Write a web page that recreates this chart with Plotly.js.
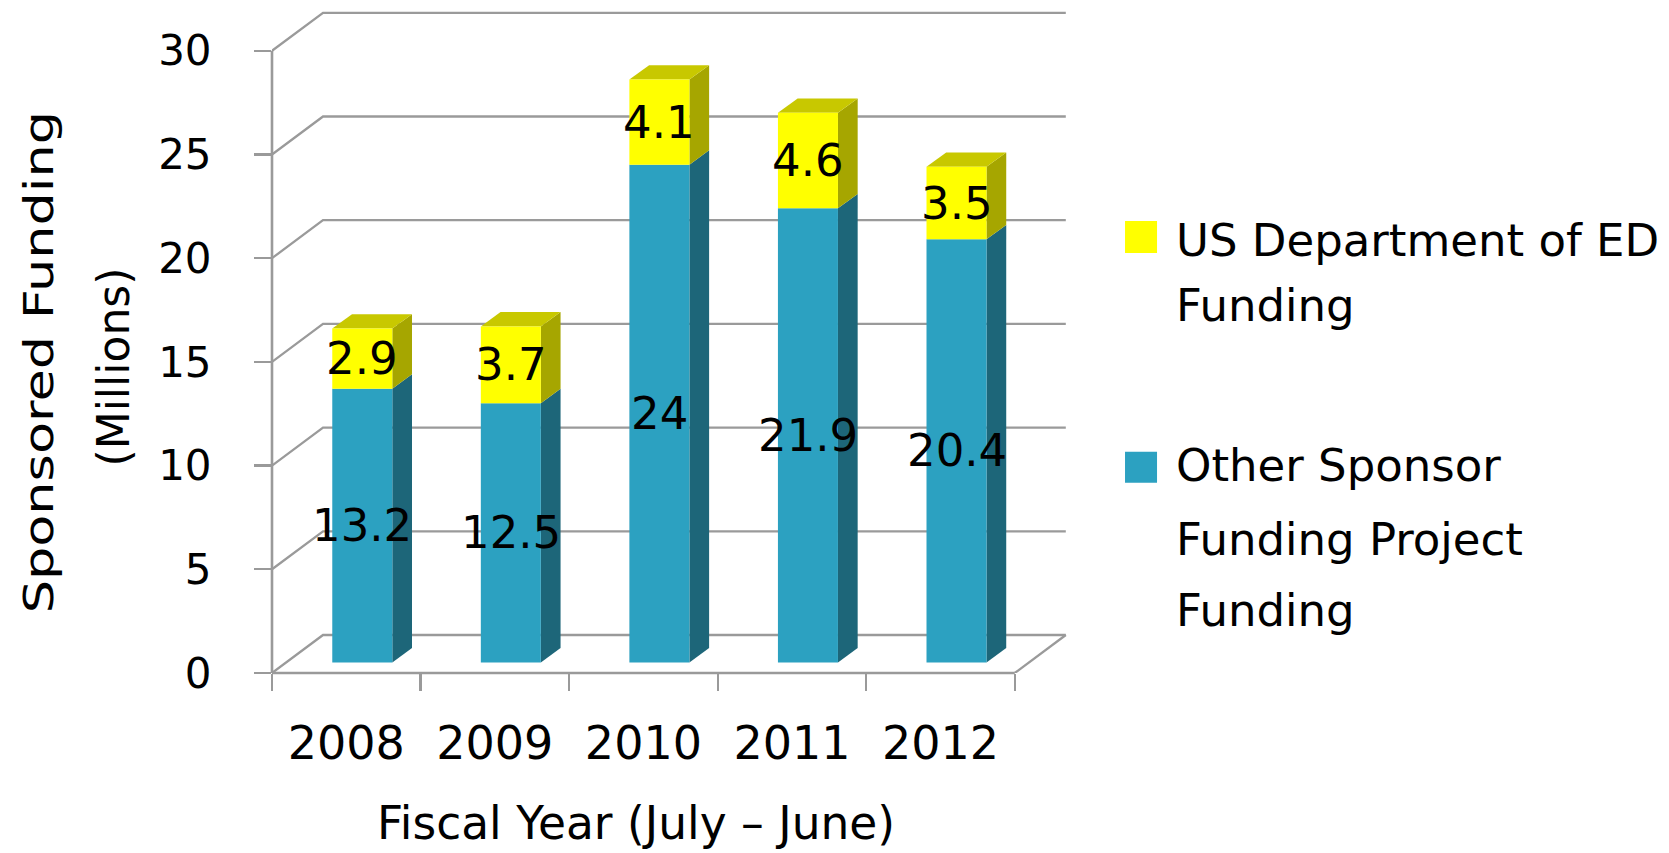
<!DOCTYPE html>
<html><head><meta charset="utf-8">
<script src="https://cdn.plot.ly/plotly-3.0.1.min.js"></script>
<style>html,body{margin:0;padding:0;background:#fff;}</style>
</head><body>
<div id="chart" style="width:1669px;height:853px;"></div>
<script>
// ---------------- data ----------------
const years = ["2008", "2009", "2010", "2011", "2012"];
const otherFunding = [13.2, 12.5, 24, 21.9, 20.4];
const edFunding = [2.9, 3.7, 4.1, 4.6, 3.5];
const seriesNames = ["Other Sponsor Funding Project Funding", "US Department of ED Funding"];
const edLegendLines = ["US Department of ED", "Funding"];
const otherLegendLines = ["Other Sponsor", "Funding Project", "Funding"];
const yTicks = [0, 5, 10, 15, 20, 25, 30];
const xTitle = "Fiscal Year (July – June)";
const yTitleLines = ["Sponsored Funding", "(Millions)"];

// ---------------- style / geometry ----------------
const FONT = "DejaVu Sans";
const W = 1669, H = 853;
const PL = 272.3, PR = 1070, PT = 8, PB = 673.3;   // plot area in px
const PX_CAT = 148.5, PX_VAL = 20.75;              // px per category / per unit
const xRange = [-0.5, -0.5 + (PR - PL) / PX_CAT];
const yRange = [0, (PB - PT) / PX_VAL];
const WALL_DX = 51 / PX_CAT, WALL_DY = 38 / PX_VAL; // depth of the floor
const BAR_BASE = 10.6 / PX_VAL;                      // bars sit a bit behind the front edge
const BAR_OFFSET = -14.0 / PX_CAT, BAR_W = 60 / PX_CAT;
const BAR_DX = 19.7 / PX_CAT, BAR_DY = 14.3 / PX_VAL; // bar thickness
const LABEL_DX = BAR_OFFSET + BAR_W / 2;
const GRID = "#9a9a9a";
const C_BLUE = "#2ca1c1", C_BLUE_SIDE = "#1d6679";
const C_YEL = "#ffff00", C_YEL_SIDE = "#a6a600", C_YEL_TOP = "#c8c800";

const xp = X => (X - PL) / (PR - PL);
const yp = Y => (PB - Y) / (PB - PT);

// ---------------- traces ----------------
const traces = [
  {type: "bar", name: seriesNames[0], x: years, y: otherFunding,
   base: otherFunding.map(() => BAR_BASE), offset: BAR_OFFSET, width: BAR_W,
   marker: {color: C_BLUE, line: {width: 0}}, hoverinfo: "skip", showlegend: false},
  {type: "bar", name: seriesNames[1], x: years, y: edFunding,
   base: otherFunding.map(v => BAR_BASE + v), offset: BAR_OFFSET, width: BAR_W,
   marker: {color: C_YEL, line: {width: 0}}, hoverinfo: "skip", showlegend: false}
];

// ---------------- shapes ----------------
const shapes = [];
// walls / grid
yTicks.forEach(v => {
  shapes.push({type: "path", xref: "x", yref: "y", layer: "below",
    path: `M${-0.5},${v} L${-0.5 + WALL_DX},${v + WALL_DY} L${4.5 + WALL_DX},${v + WALL_DY}`,
    line: {color: GRID, width: 2.3}});
});
shapes.push({type: "path", xref: "x", yref: "y", layer: "below",
  path: `M4.5,0 L${4.5 + WALL_DX},${WALL_DY}`, line: {color: GRID, width: 2.3}});
shapes.push({type: "line", xref: "x", yref: "paper", layer: "below",
  x0: -0.5, x1: 4.5, y0: 0, y1: 0, line: {color: GRID, width: 2.6}});
shapes.push({type: "line", xref: "paper", yref: "y", layer: "below",
  x0: 0, x1: 0, y0: 0, y1: yTicks[yTicks.length - 1], line: {color: GRID, width: 2.6}});

// 3-D faces of the bars
years.forEach((yr, i) => {
  const xl = i + BAR_OFFSET, xr = xl + BAR_W;
  const segs = [
    [BAR_BASE, BAR_BASE + otherFunding[i], C_BLUE_SIDE],
    [BAR_BASE + otherFunding[i], BAR_BASE + otherFunding[i] + edFunding[i], C_YEL_SIDE]
  ];
  segs.forEach(([b0, b1, col]) => {
    shapes.push({type: "path", xref: "x", yref: "y", layer: "below",
      path: `M${xr},${b0} L${xr},${b1} L${xr + BAR_DX},${b1 + BAR_DY} L${xr + BAR_DX},${b0 + BAR_DY} Z`,
      fillcolor: col, line: {width: 0}});
  });
  const t = BAR_BASE + otherFunding[i] + edFunding[i];
  shapes.push({type: "path", xref: "x", yref: "y", layer: "below",
    path: `M${xl},${t} L${xr},${t} L${xr + BAR_DX},${t + BAR_DY} L${xl + BAR_DX},${t + BAR_DY} Z`,
    fillcolor: C_YEL_TOP, line: {width: 0}});
});

// legend squares
shapes.push({type: "rect", xref: "paper", yref: "paper",
  x0: xp(1125), x1: xp(1157), y0: yp(221), y1: yp(253), fillcolor: C_YEL, line: {width: 0}});
shapes.push({type: "rect", xref: "paper", yref: "paper",
  x0: xp(1125), x1: xp(1157), y0: yp(452), y1: yp(483), fillcolor: C_BLUE, line: {width: 0}});

// ---------------- annotations ----------------
const annotations = [];
years.forEach((yr, i) => {
  annotations.push({xref: "x", yref: "y", x: i + LABEL_DX, y: BAR_BASE + otherFunding[i] / 2,
    text: String(otherFunding[i]), showarrow: false, xanchor: "center", yanchor: "middle",
    font: {family: FONT, size: 45, color: "#000"}});
  annotations.push({xref: "x", yref: "y", x: i + LABEL_DX, y: BAR_BASE + otherFunding[i] + edFunding[i] / 2,
    text: String(edFunding[i]), showarrow: false, xanchor: "center", yanchor: "middle",
    font: {family: FONT, size: 45, color: "#000"}});
});
const legY = {ed: [241, 306], other: [466, 540, 611]};
edLegendLines.forEach((t, k) => annotations.push({xref: "paper", yref: "paper",
  x: xp(1174), y: yp(legY.ed[k]), text: t, showarrow: false, xanchor: "left", yanchor: "middle",
  font: {family: FONT, size: 45, color: "#000"}}));
otherLegendLines.forEach((t, k) => annotations.push({xref: "paper", yref: "paper",
  x: xp(1174), y: yp(legY.other[k]), text: t, showarrow: false, xanchor: "left", yanchor: "middle",
  font: {family: FONT, size: 45, color: "#000"}}));
// axis titles
annotations.push({xref: "paper", yref: "paper", x: xp(39), y: yp(362), text: yTitleLines[0],
  textangle: -90, showarrow: false, xanchor: "center", yanchor: "middle",
  font: {family: FONT, size: 41, color: "#000"}});
annotations.push({xref: "paper", yref: "paper", x: xp(114), y: yp(367), text: yTitleLines[1],
  textangle: -90, showarrow: false, xanchor: "center", yanchor: "middle",
  font: {family: FONT, size: 44, color: "#000"}});
annotations.push({xref: "paper", yref: "paper", x: xp(636), y: yp(824), text: xTitle,
  showarrow: false, xanchor: "center", yanchor: "middle",
  font: {family: FONT, size: 45.5, color: "#000"}});

const layout = {
  width: W, height: H,
  margin: {l: PL, r: W - PR, t: PT, b: H - PB, pad: 0},
  paper_bgcolor: "#fff", plot_bgcolor: "#fff",
  barmode: "overlay", showlegend: false,
  font: {family: FONT, color: "#000"},
  xaxis: {type: "category", range: xRange, tickson: "boundaries",
    ticks: "outside", ticklen: 17, tickwidth: 2.3, tickcolor: GRID,
    showgrid: false, zeroline: false, showline: false, fixedrange: true,
    tickfont: {family: FONT, size: 46, color: "#000"}, ticklabelstandoff: 39},
  yaxis: {range: yRange, tickmode: "array", tickvals: yTicks,
    ticks: "outside", ticklen: 17, tickwidth: 2.3, tickcolor: GRID,
    showgrid: false, zeroline: false, showline: false, fixedrange: true,
    tickfont: {family: FONT, size: 42, color: "#000"}, ticklabelstandoff: 34},
  shapes: shapes, annotations: annotations
};

Plotly.newPlot("chart", traces, layout, {displayModeBar: false, staticPlot: true}).then(gd => {
  // the reference's first y-title line is drawn stretched along its length
  gd.querySelectorAll("text.annotation-text").forEach(el => {
    if (el.textContent === yTitleLines[0]) {
      const bb = el.getBBox();
      const cx = bb.x + bb.width / 2, cy = bb.y + bb.height / 2;
      const prev = el.getAttribute("transform") || "";
      el.setAttribute("transform",
        `${prev} translate(${cx},${cy}) scale(1.28,1) translate(${-cx},${-cy})`.trim());
    }
  });
});
</script>
</body></html>
